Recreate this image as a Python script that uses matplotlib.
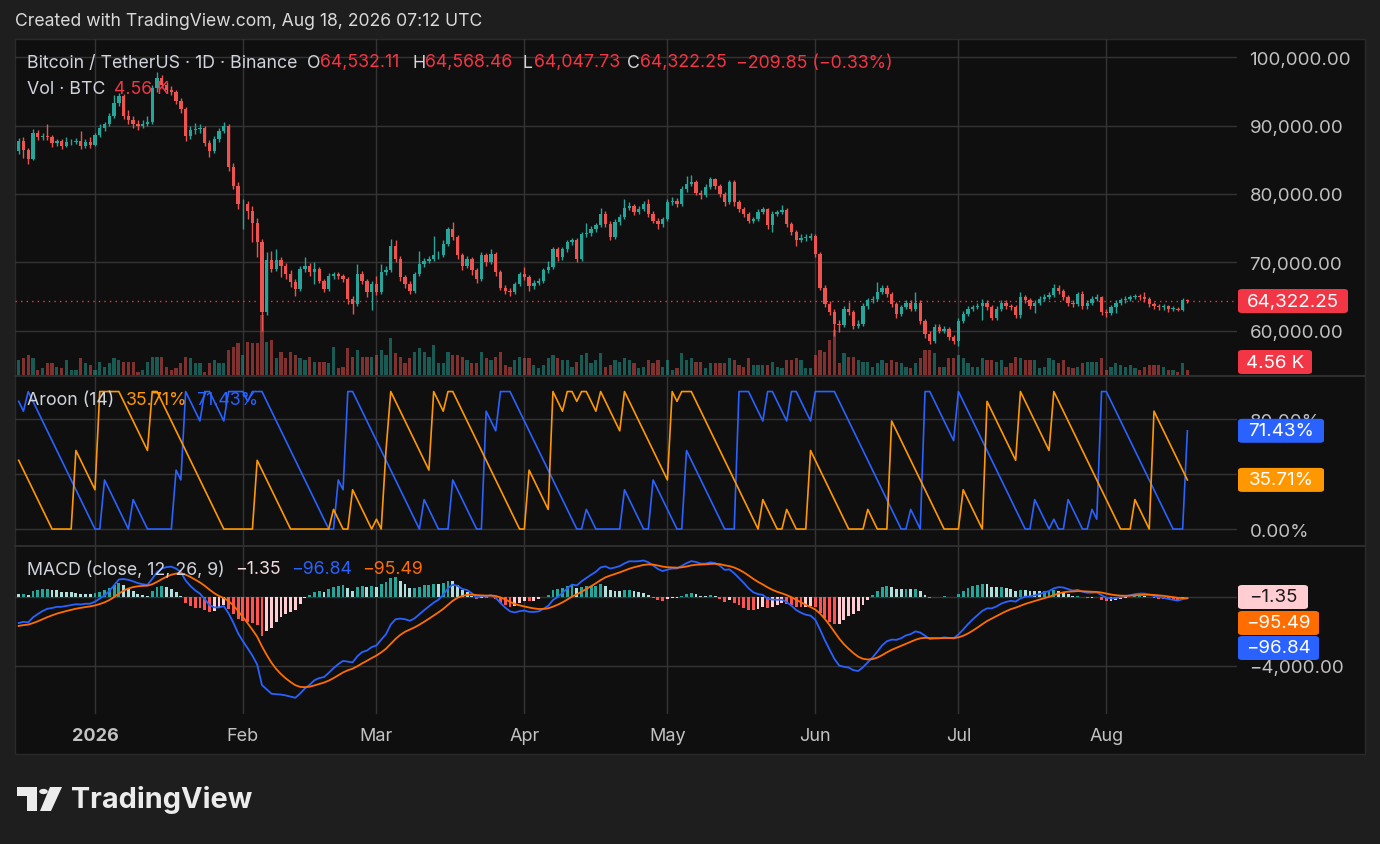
import numpy as np
import matplotlib
matplotlib.use("Agg")
import matplotlib.pyplot as plt
from matplotlib.patches import Rectangle, Polygon, Circle, FancyBboxPatch
from matplotlib.lines import Line2D

plt.rcParams['font.family'] = ['Inter', 'DejaVu Sans']

# ---------------- data (prices in thousands of USDT) ----------------
start_date = '2025-12-16'
first_open_k = 86.3
close_k = [
    87.7, 86.5, 85.2, 89.0, 88.3, 88.5, 88.3, 87.5, 87.8, 87.1, 87.6, 87.6, 87.8, 87.0, 87.6, 87.2,
    88.6, 89.6, 90.2, 91.5, 93.3, 94.3, 91.5, 90.8, 90.3, 90.0,
    90.3, 90.6, 95.5, 97.0, 96.0, 95.3, 95.0, 93.6, 92.4, 88.5,
    89.4, 89.5, 89.6, 87.5, 86.3, 88.0, 89.2, 90.0, 84.0, 81.2,
    78.5, 78.6, 77.5, 75.8, 73.0, 62.7, 70.4, 69.0, 70.3, 69.5,
    68.3, 67.1, 66.1, 69.0, 69.5, 68.5, 69.0, 67.3, 66.1, 68.0,
    68.3, 68.0, 67.5, 64.6, 63.9, 68.3, 67.3, 65.6, 66.8, 65.6,
    68.5, 68.8, 72.4, 70.5, 67.8, 66.8, 65.8, 68.3, 69.7, 70.2,
    70.5, 71.0, 71.0, 72.7, 74.9, 73.7, 71.0, 69.5, 70.5, 68.8,
    67.6, 71.0, 70.0, 71.2, 68.5, 66.3, 65.8, 65.6, 66.8, 68.3,
    67.8, 66.5, 67.0, 67.3, 68.8, 69.3, 71.9, 70.7, 71.9, 72.9,
    73.2, 70.5, 74.1, 74.3, 74.9, 75.4, 77.1, 75.6, 73.7, 75.9,
    76.6, 78.0, 78.3, 77.3, 77.8, 78.5, 77.1, 76.1, 75.6, 76.3,
    78.8, 79.0, 78.6, 80.7, 81.5, 81.7, 80.2, 79.8, 81.0, 82.2,
    81.2, 80.0, 78.8, 81.7, 78.8, 77.8, 77.1, 76.1, 76.3, 77.3,
    77.8, 75.4, 77.1, 77.3, 77.6, 75.6, 74.4, 73.2, 73.6, 73.6,
    73.9, 71.2, 66.3, 63.9, 62.7, 61.0, 60.8, 63.2, 62.7, 60.7,
    61.0, 63.6, 64.4, 64.6, 65.6, 66.3, 65.4, 63.9, 62.4, 63.4,
    64.1, 63.2, 64.1, 61.4, 59.5, 58.5, 60.5, 60.0, 60.2, 59.0,
    58.5, 61.4, 62.4, 63.2, 63.4, 63.6, 64.1, 63.4, 61.9, 63.2,
    64.1, 63.6, 63.4, 62.2, 64.9, 64.4, 63.6, 64.1, 64.6, 64.9,
    65.2, 66.3, 65.8, 64.9, 64.0, 63.9, 65.4, 63.6, 64.0, 64.6,
    64.9, 62.7, 62.5, 63.4, 64.1, 64.4, 64.6, 64.9, 65.1, 64.9,
    64.6, 63.9, 63.6, 63.4, 63.6, 63.2, 63.2, 63.0, 64.53211, 64.32225,
]
high_k = [
    88.2, 88.3, 86.8, 89.5, 89.4, 89.0, 90.2, 88.6, 88.1, 88.0, 88.4, 88.0, 88.2, 89.3, 88.0, 88.3,
    88.9, 90.3, 90.6, 91.9, 94.5, 94.8, 94.6, 92.3, 91.4, 90.8,
    90.9, 91.4, 96.0, 97.9, 97.4, 96.4, 95.8, 95.3, 94.0, 92.8,
    90.0, 90.4, 90.3, 90.0, 87.9, 88.5, 89.6, 90.5, 90.2, 84.6,
    81.8, 79.2, 79.0, 78.2, 76.5, 73.4, 71.5, 71.6, 71.9, 70.8,
    69.9, 68.8, 67.5, 69.5, 70.7, 69.9, 70.0, 69.3, 67.6, 68.4,
    68.6, 68.6, 68.3, 67.9, 65.0, 69.7, 68.7, 67.6, 67.2, 68.0,
    69.7, 69.5, 73.4, 73.3, 70.9, 68.2, 67.2, 68.6, 71.6, 70.6,
    70.9, 73.9, 71.6, 73.3, 75.2, 75.9, 74.0, 71.4, 70.9, 70.8,
    69.2, 71.5, 71.4, 71.9, 71.5, 68.8, 66.6, 66.2, 67.1, 68.6,
    69.3, 68.1, 67.4, 67.7, 69.1, 70.2, 72.3, 72.3, 72.3, 73.2,
    73.6, 73.5, 74.5, 75.8, 75.3, 75.8, 78.0, 77.5, 76.0, 76.3,
    77.0, 79.3, 78.8, 78.6, 78.2, 79.0, 79.3, 77.5, 76.5, 76.7,
    79.2, 79.5, 79.4, 81.1, 82.7, 82.8, 82.0, 80.6, 81.4, 82.5,
    82.4, 81.5, 80.3, 82.1, 82.0, 79.1, 78.1, 77.4, 76.7, 77.8,
    78.1, 78.0, 77.5, 77.7, 78.4, 77.9, 75.9, 74.7, 74.1, 74.1,
    74.3, 74.2, 71.5, 66.6, 64.3, 63.2, 61.6, 63.6, 64.2, 63.0,
    61.6, 64.0, 64.8, 65.0, 67.1, 66.7, 66.6, 65.7, 64.2, 63.8,
    64.5, 64.4, 65.6, 64.4, 61.7, 60.0, 61.0, 60.9, 60.6, 60.5,
    59.4, 61.8, 62.8, 63.6, 63.8, 64.0, 64.6, 64.4, 63.7, 63.6,
    64.5, 64.4, 63.9, 63.7, 65.6, 65.2, 64.7, 64.5, 65.0, 65.3,
    65.6, 66.8, 66.6, 66.1, 65.2, 64.4, 65.7, 65.8, 64.4, 65.0,
    65.3, 65.1, 63.1, 63.8, 64.5, 64.8, 65.0, 65.2, 65.4, 65.3,
    65.6, 64.9, 64.2, 63.9, 63.9, 63.8, 63.6, 63.4, 64.7, 64.56846,
]
low_k = [
    85.9, 85.3, 84.4, 85.0, 87.9, 87.9, 87.9, 86.9, 87.1, 86.6, 86.9, 87.2, 87.3, 86.6, 86.7, 86.8,
    87.0, 88.3, 89.3, 90.0, 91.2, 92.9, 91.0, 90.3, 89.6, 89.4,
    89.7, 90.0, 90.3, 95.0, 95.5, 94.8, 94.5, 93.2, 91.8, 87.8,
    88.0, 88.8, 89.0, 87.0, 85.4, 86.0, 87.6, 88.9, 83.3, 80.7,
    77.8, 74.8, 76.4, 73.0, 70.8, 60.0, 62.2, 68.6, 68.7, 67.8,
    67.6, 66.4, 65.1, 65.8, 68.6, 68.0, 66.8, 66.9, 65.7, 65.8,
    67.5, 67.6, 67.1, 63.9, 62.4, 63.6, 66.8, 64.9, 63.0, 65.2,
    65.3, 68.2, 68.5, 70.0, 67.3, 66.2, 65.3, 65.5, 68.0, 69.3,
    69.9, 70.2, 70.5, 70.8, 72.4, 73.2, 70.5, 68.8, 69.1, 68.2,
    67.0, 67.3, 69.5, 69.7, 68.0, 65.9, 65.3, 65.0, 65.3, 66.5,
    67.4, 65.8, 66.1, 66.7, 67.0, 68.4, 69.0, 70.2, 70.4, 71.5,
    72.6, 70.1, 70.2, 73.7, 73.9, 74.5, 75.1, 75.2, 73.3, 73.4,
    75.5, 76.3, 77.7, 76.9, 77.0, 77.5, 76.7, 75.7, 74.9, 75.2,
    76.0, 78.4, 78.1, 78.3, 80.3, 81.1, 79.8, 79.3, 79.5, 80.7,
    80.8, 79.6, 78.3, 78.5, 78.3, 77.3, 76.6, 75.7, 75.8, 76.0,
    77.0, 74.9, 74.4, 76.8, 77.0, 75.2, 74.0, 72.4, 72.9, 73.1,
    73.3, 70.8, 65.9, 63.4, 62.2, 59.2, 59.8, 60.5, 62.2, 60.2,
    60.3, 60.7, 63.2, 64.0, 64.3, 65.3, 64.9, 63.5, 61.9, 62.1,
    63.1, 62.8, 62.9, 61.0, 58.9, 58.0, 58.2, 59.6, 59.6, 58.6,
    58.0, 57.7, 61.1, 62.1, 62.9, 63.1, 61.5, 63.0, 61.5, 61.6,
    62.9, 63.2, 63.0, 61.8, 61.9, 64.0, 63.2, 62.6, 63.8, 64.3,
    64.6, 64.9, 65.4, 64.5, 63.6, 63.5, 63.6, 63.2, 63.2, 63.7,
    64.3, 62.3, 62.0, 62.3, 62.6, 63.8, 64.1, 64.3, 64.6, 64.5,
    64.2, 63.5, 63.2, 63.0, 63.0, 62.75, 62.9, 62.8, 62.85, 64.04773,
]
volume_kbtc = [
    15, 17, 20, 17, 5, 7, 12, 12, 8, 7, 15, 5, 5, 17, 12, 10, 5, 13, 8, 12, 17, 15, 13, 13, 13,
    3, 5, 13, 18, 18, 18, 8, 5, 7, 12, 18, 17, 12, 12, 3, 12, 15, 12, 12, 25,
    28, 32, 20, 33, 32, 32, 60, 33, 35,
    17, 23, 17, 23, 20, 17, 15, 18, 13, 13, 13, 12, 28, 7, 8, 27, 18, 25, 18, 18, 18, 20, 25, 20,
    37, 22, 18, 12, 17, 23, 27, 23, 18, 30, 12,
    12, 23, 20, 20, 18, 15, 12, 12, 23, 17, 15, 18, 23, 10, 8, 15, 18, 17, 17, 10, 7, 10, 17, 20,
    17, 15, 15, 8, 13, 20, 22, 12, 15, 22, 8, 10, 15, 13, 17, 15, 12, 7, 8, 15,
    12, 15, 8, 15, 5, 7, 22, 15, 17, 13, 13, 7, 12, 12, 12, 12, 17, 15, 10, 8, 17, 10, 10, 10,
    10, 13, 8, 7, 15, 15, 17, 15, 7, 7, 20, 25, 23, 35, 45, 12, 22, 18, 18, 15,
    13, 13, 8, 12, 15, 12, 15, 13, 12, 8, 7, 12, 17, 25, 25, 22, 8, 8, 17, 17, 20, 17, 12, 8,
    8, 17, 15, 15, 13, 15, 8, 12, 18, 17, 15, 15, 15, 7, 8, 17, 15, 12, 15, 8,
    7, 8, 12, 13, 13, 13, 17, 5, 8, 12, 10, 8, 10, 7, 5, 8, 10, 10, 10, 8, 5, 5, 3, 12, 4.56,
]
# Aroon(14) values of the first 14 bars (they depend on bars before the visible range)
aroon_up_head = [50.0, 42.86, 35.71, 28.57, 21.43, 14.29, 7.14, 0, 0, 0, 0, 0, 57.14, 50.0]
aroon_down_head = [92.86, 85.71, 100, 92.86, 85.71, 78.57, 71.43, 64.29, 57.14, 50.0, 42.86, 35.71, 28.57, 21.43]
# MACD state carried in from before the visible range
ema12_seed, ema26_seed, signal_seed = 86900.0, 88600.0, -1720.0

month_starts = ['2026-01-01', '2026-02-01', '2026-03-01', '2026-04-01',
                '2026-05-01', '2026-06-01', '2026-07-01', '2026-08-01']
month_labels = ['2026', 'Feb', 'Mar', 'Apr', 'May', 'Jun', 'Jul', 'Aug']
price_ticks = [60000, 70000, 80000, 90000, 100000]
price_tick_labels = ['60,000.00', '70,000.00', '80,000.00', '90,000.00', '100,000.00']
aroon_grid = [0, 40, 80]
aroon_ticks = [0, 80]
aroon_tick_labels = ['0.00%', '80.00%']
macd_grid = [0, -4000]
macd_ticks = [-4000]
macd_tick_labels = ['\u22124,000.00']

hdr_open, hdr_high, hdr_low, hdr_close = '64,532.11', '64,568.46', '64,047.73', '64,322.25'
hdr_change = '\u2212209.85 (\u22120.33%)'
hdr_vol = '4.56 K'
aroon_up_last, aroon_down_last = 35.71, 71.43
macd_hist_last, macd_last, signal_last = '\u22121.35', '\u221296.84', '\u221295.49'

# ---------------- derived series ----------------
n = len(close_k)
close = np.array(close_k) * 1000.0
high = np.array(high_k) * 1000.0
low = np.array(low_k) * 1000.0
opn = np.r_[first_open_k * 1000.0, close[:-1]]
vol = np.array(volume_kbtc, dtype=float)
t0 = np.datetime64('2026-01-01')
days = ((np.datetime64(start_date) + np.arange(n)) - t0).astype(int)
month_pos = [(np.datetime64(m) - t0).astype(int) for m in month_starts]

P = 14
a_up = np.zeros(n)
a_dn = np.zeros(n)
nh = len(aroon_up_head)
a_up[:nh] = aroon_up_head
a_dn[:nh] = aroon_down_head
for i in range(nh, n):
    wh = high[i - P:i + 1]
    wl = low[i - P:i + 1]
    bs_h = P - int(np.argmax(wh))
    bs_l = P - int(np.argmin(wl))
    a_up[i] = 100.0 * (P - bs_h) / P
    a_dn[i] = 100.0 * (P - bs_l) / P


def ema(x, span, seed):
    a = 2.0 / (span + 1)
    out = np.empty(len(x))
    prev = seed
    for i, v in enumerate(x):
        prev = prev + a * (v - prev)
        out[i] = prev
    return out


macd = ema(close, 12, ema12_seed) - ema(close, 26, ema26_seed)
sig = ema(macd, 9, signal_seed)
hist = macd - sig

# ---------------- styling ----------------
W, H = 1380, 845
BG_OUT = '#1e1e1e'
BG = '#0f0f0f'
GRID = '#343434'
SEP = '#2e2e2e'
TXT = '#d1d4dc'
AX_TXT = '#c2c2c2'
GREEN = '#26a69a'
RED = '#ef5350'
TAG_RED = '#f23645'
BLUE = '#2962ff'
ORANGE = '#ff9800'
ORANGE2 = '#ff6d00'
LEG = 12.8
TICK = 13.5


def fx(px):
    return px / W


def fy(py):
    return 1 - py / H


fig = plt.figure(figsize=(W / 100, H / 100), dpi=100, facecolor=BG_OUT)
fig.add_artist(Rectangle((fx(15), fy(755)), (1365 - 15) / W, (755 - 40) / H,
                         transform=fig.transFigure, fc=BG, ec='#2a2a2a', lw=1, zorder=-10))

L, R = 15, 1237
XL = (-16.77, 239.4)


def make_ax(top, bottom, z=1):
    ax = fig.add_axes([fx(L), fy(bottom), (R - L) / W, (bottom - top) / H], zorder=z)
    ax.set_facecolor('none')
    for s in ax.spines.values():
        s.set_visible(False)
    ax.set_xlim(*XL)
    ax.set_xticks([])
    return ax


# ---- price pane ----
ax_v = make_ax(40, 376, z=0)
ax_p = make_ax(40, 376, z=1)
P_LO, P_HI = 53480, 102710
ax_p.set_ylim(P_LO, P_HI)
ax_v.set_ylim(0, 336)
ax_v.set_yticks([])
for tk in price_ticks:
    f = (tk - P_LO) / (P_HI - P_LO)
    ax_v.plot([0, 1], [f, f], transform=ax_v.transAxes, color=GRID, lw=1, zorder=0)
for m in month_pos:
    ax_v.axvline(m, color=GRID, lw=1, zorder=0)

up = close >= opn
cols = np.where(up, GREEN, RED)
ax_v.bar(days, vol, width=0.68, color=cols, alpha=0.5, lw=0, zorder=1)
ax_p.vlines(days, low, high, colors=cols, lw=1, zorder=2)
body = np.maximum(np.abs(close - opn), 90)
ax_p.bar(days, body, bottom=np.minimum(opn, close), width=0.7, color=cols, lw=0, zorder=3)
ax_p.axhline(close[-1], color=TAG_RED, lw=1, ls=(0, (1, 3)), zorder=1)

ax_p.yaxis.tick_right()
ax_p.set_yticks(price_ticks)
ax_p.set_yticklabels(price_tick_labels)

# ---- aroon pane ----
ax_a = make_ax(377, 546)
ax_a.set_ylim(-11.6, 111.3)
for tk in aroon_grid:
    ax_a.axhline(tk, color=GRID, lw=1, zorder=0)
for m in month_pos:
    ax_a.axvline(m, color=GRID, lw=1, zorder=0)
ax_a.plot(days, a_dn, color=BLUE, lw=1.2, zorder=2)
ax_a.plot(days, a_up, color=ORANGE, lw=1.2, zorder=2)
ax_a.yaxis.tick_right()
ax_a.set_yticks(aroon_ticks)
ax_a.set_yticklabels(aroon_tick_labels)

# ---- macd pane ----
ax_m = make_ax(547, 715)
ax_m.set_ylim(-6783, 2957)
for tk in macd_grid:
    ax_m.axhline(tk, color=GRID, lw=1, zorder=0)
for m in month_pos:
    ax_m.axvline(m, color=GRID, lw=1, zorder=0)
prev = np.r_[hist[0], hist[:-1]]
hcols = np.where(hist >= 0,
                 np.where(hist > prev, '#26a69a', '#b2dfdb'),
                 np.where(hist < prev, '#ff5252', '#ffcdd2'))
ax_m.bar(days, hist, width=0.6, color=hcols, lw=0, zorder=1)
ax_m.plot(days, macd, color=BLUE, lw=1.3, zorder=3)
ax_m.plot(days, sig, color=ORANGE2, lw=1.3, zorder=3)
ax_m.yaxis.tick_right()
ax_m.set_yticks(macd_ticks)
ax_m.set_yticklabels(macd_tick_labels)

for ax in (ax_p, ax_a, ax_m):
    ax.tick_params(axis='y', length=0, pad=9, labelsize=TICK, labelcolor=AX_TXT)

# separators
for yy in (376.5, 546.5):
    fig.add_artist(Line2D([fx(15), fx(1365)], [fy(yy), fy(yy)], color=SEP, lw=1.4,
                          transform=fig.transFigure, zorder=5))

# time axis labels
for m, lab in zip(month_pos, month_labels):
    xpx = L + (m - XL[0]) / (XL[1] - XL[0]) * (R - L)
    fig.text(fx(xpx), fy(737), lab, ha='center', va='center', fontsize=13,
             color=AX_TXT, fontweight='bold' if lab == '2026' else 'normal')


def ftxt(x, y, s, color=TXT, size=LEG, **kw):
    return fig.text(fx(x), fy(y), s, color=color, fontsize=size, va='center', ha='left', **kw)


def tag(x0, x1, yc, s, fc, tc='white', h=24):
    fig.add_artist(FancyBboxPatch((fx(x0), fy(yc + h / 2)), (x1 - x0) / W, h / H,
                                  boxstyle='round,pad=0,rounding_size=0.003',
                                  transform=fig.transFigure, fc=fc, ec='none', zorder=6))
    fig.text(fx((x0 + x1) / 2), fy(yc), s, color=tc, fontsize=TICK, va='center',
             ha='center', zorder=7)


# title
ftxt(15, 22, 'Created with TradingView.com, Aug 18, 2026 07:12 UTC', color='#dadada', size=12.65)

# legends
ftxt(27, 63, 'Bitcoin / TetherUS \u00b7 1D \u00b7 Binance')
ftxt(307, 63, 'O')
ftxt(320, 63, hdr_open, color=TAG_RED)
ftxt(413, 63, 'H')
ftxt(425, 63, hdr_high, color=TAG_RED)
ftxt(522, 63, 'L')
ftxt(534, 63, hdr_low, color=TAG_RED)
ftxt(627, 63, 'C')
ftxt(640, 63, hdr_close, color=TAG_RED)
ftxt(736, 63, hdr_change, color=TAG_RED)
ftxt(27, 89, 'Vol \u00b7 BTC')
ftxt(114, 89, hdr_vol, color=TAG_RED)

ftxt(27, 401, 'Aroon (14)')
ftxt(126, 401, f'{aroon_up_last:.2f}%', color=ORANGE)
ftxt(196, 401, f'{aroon_down_last:.2f}%', color=BLUE)

ftxt(27, 570, 'MACD (close, 12, 26, 9)')
ftxt(235, 570, macd_hist_last, color='#f5dcdc')
ftxt(291, 570, macd_last, color=BLUE)
ftxt(362, 570, signal_last, color=ORANGE2)

# right-side tags
py_last = 58.5 + (100000 - close[-1]) / 1000 * 6.825
tag(1238, 1348, py_last, hdr_close, TAG_RED)
tag(1238, 1312, 363, hdr_vol, TAG_RED)
tag(1238, 1324, 530 - aroon_down_last * 1.375, f'{aroon_down_last:.2f}%', BLUE)
tag(1238, 1324, 530 - aroon_up_last * 1.375, f'{aroon_up_last:.2f}%', ORANGE)
tag(1238, 1308, 598, macd_hist_last, '#ffcdd2', tc='#1a1a1a')
tag(1238, 1319, 624, signal_last, ORANGE2)
tag(1238, 1319, 649, macd_last, BLUE)

# TradingView logo
LOGO = '#ececec'


def poly(pts):
    fig.add_artist(Polygon([(fx(a), fy(b)) for a, b in pts], closed=True,
                           transform=fig.transFigure, fc=LOGO, ec='none'))


poly([(17, 788), (37, 788), (37, 812), (27, 812), (27, 797), (17, 797)])
fig.add_artist(Circle((fx(43.5), fy(792.5)), 4.3 / W, transform=fig.transFigure, fc=LOGO, ec='none'))
poly([(50, 788), (62, 788), (51, 812), (40, 812)])
ftxt(71, 800, 'TradingView', color=LOGO, size=20.8, fontweight='bold')

fig.savefig('out.png', dpi=100, facecolor=BG_OUT)
